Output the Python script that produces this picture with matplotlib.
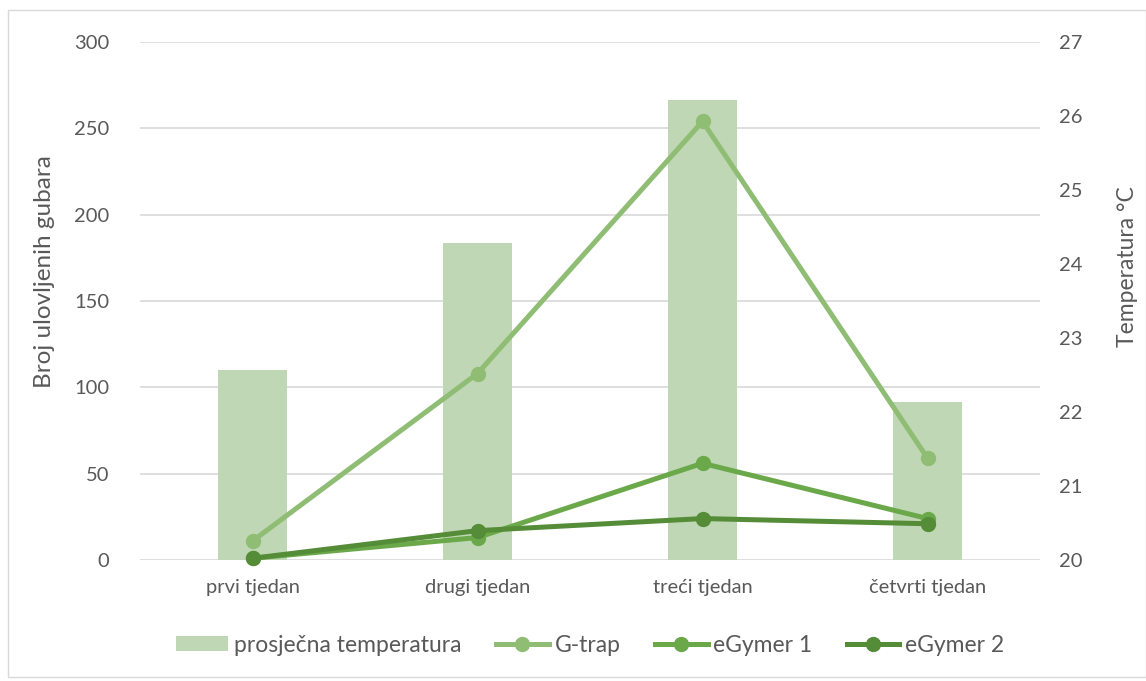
import matplotlib.pyplot as plt
from matplotlib.patches import Rectangle

# data
weeks = ['prvi tjedan', 'drugi tjedan', 'treći tjedan', 'četvrti tjedan']
temperature = [22.57, 24.28, 26.22, 22.14]
g_trap = [11, 108, 254, 59]
egymer1 = [1, 13, 56, 24]
egymer2 = [1, 17, 24, 21]

plt.rcParams['font.family'] = ['Lato', 'DejaVu Sans']
txt = '#595959'

fig = plt.figure(figsize=(11.46, 6.81), dpi=100)
fig.patches.append(Rectangle((8 / 1146, 4 / 681), 1 - 8 / 1146, 1 - 14 / 681,
                             transform=fig.transFigure, fill=False,
                             edgecolor='#d9d9d9', linewidth=1))

pos = [140 / 1146, 1 - 560 / 681, 900 / 1146, 518 / 681]
ax = fig.add_axes(pos)
ax2 = ax.twinx()
ax3 = ax.twinx()

x = list(range(len(weeks)))

# left axis: counts + gridlines
ax.set_ylim(0, 300)
ax.set_yticks(range(0, 301, 50))
ax.set_xlim(-0.5, 3.5)
ax.set_xticks(x)
ax.set_xticklabels(weeks)
ax.yaxis.grid(True, color='#d9d9d9', linewidth=1.2)
ax.set_axisbelow(True)
ax.set_ylabel('Broj ulovljenih gubara', color=txt, fontsize=17.5)
ax.yaxis.set_label_coords(-0.094, 0.556)

# right axis: temperature bars
bars = ax2.bar(x, temperature, width=0.31, color='#bfd7b4', bottom=0,
               label='prosječna temperatura')
ax2.set_ylim(20, 27)
ax2.set_yticks(range(20, 28))
ax2.set_ylabel('Temperatura °C', color=txt, fontsize=16.5)
ax2.yaxis.set_label_coords(1.085, 0.566)

# lines on top
l1, = ax3.plot(x, g_trap, color='#8fbd74', lw=3.6, marker='o', ms=10,
               label='G-trap')
l2, = ax3.plot(x, egymer1, color='#6aa84a', lw=3.6, marker='o', ms=10,
               label='eGymer 1')
l3, = ax3.plot(x, egymer2, color='#548c38', lw=3.6, marker='o', ms=10,
               label='eGymer 2')
ax3.set_ylim(0, 300)
ax3.set_yticks([])
for l in (l1, l2, l3):
    l.set_clip_on(False)

for a in (ax, ax2, ax3):
    for s in a.spines.values():
        s.set_visible(False)
    a.tick_params(length=0, labelsize=14.5, colors=txt)
ax.tick_params(axis='x', pad=14)
ax.tick_params(axis='y', pad=22)
ax2.tick_params(axis='y', pad=14)

ax.set_zorder(0)
ax2.set_zorder(1)
ax3.set_zorder(2)
ax2.patch.set_visible(False)
ax3.patch.set_visible(False)

fig.legend(handles=[bars, l1, l2, l3], loc='center', ncol=4,
           bbox_to_anchor=(590 / 1146, 1 - 645 / 681), frameon=False,
           fontsize=16.5, labelcolor=txt, handlelength=2.3,
           handleheight=0.6, columnspacing=1.5, handletextpad=0.25)

fig.savefig('out.png', dpi=100)
